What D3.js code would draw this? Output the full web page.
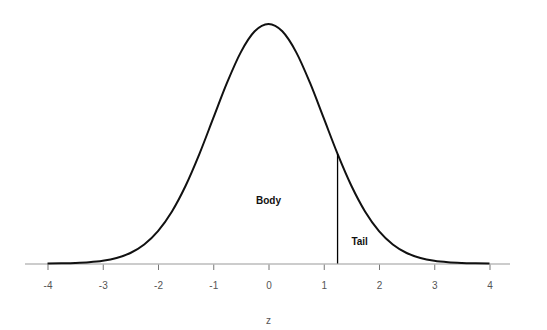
<!DOCTYPE html>
<html lang="en">
  <head>
    <meta charset="UTF-8" />
    <title>Body and tail</title>
    <script src="https://cdn.jsdelivr.net/npm/d3@7"></script>
    <style>
      body { margin: 0; background: #fff; }
      svg { display: block; font-family: "Liberation Sans", Arial, sans-serif; }
    </style>
  </head>
  <body>
    <svg id="chart" width="547" height="330"></svg>
    <script>
      // curve heights, every quarter unit of z
      const zValues = [-4, -3.75, -3.5, -3.25, -3, -2.75, -2.5, -2.25, -2, -1.75, -1.5, -1.25, -1, -0.75, -0.5, -0.25,
        0, 0.25, 0.5, 0.75, 1, 1.25, 1.5, 1.75, 2, 2.25, 2.5, 2.75, 3, 3.25, 3.5, 3.75, 4];
      const density = [0.0001, 0.0004, 0.0009, 0.0020, 0.0044, 0.0091, 0.0175, 0.0317, 0.0540, 0.0863, 0.1295, 0.1826,
        0.2420, 0.3011, 0.3521, 0.3867, 0.3989, 0.3867, 0.3521, 0.3011, 0.2420, 0.1826, 0.1295, 0.0863, 0.0540,
        0.0317, 0.0175, 0.0091, 0.0044, 0.0020, 0.0009, 0.0004, 0.0001];
      const tickLabels = [-4, -3, -2, -1, 0, 1, 2, 3, 4];
      const cutZ = 1.25;
      const cutHeight = 0.1826;
      const labels = [
        { text: "Body", z: 0, d: 0.104 },
        { text: "Tail", z: 1.65, d: 0.036 }
      ];

      const svg = d3.select("#chart");
      const x = d3.scaleLinear().domain([-4, 4]).range([47.5, 489.5]);
      const y = d3.scaleLinear().domain([0, 0.3989]).range([263.5, 24]);

      // axis (plain hyphen minus, like the original)
      const axis = svg.append("g")
        .attr("transform", "translate(0,264)")
        .call(d3.axisBottom(x).tickValues(tickLabels).tickSize(6).tickPadding(12).tickFormat(d => String(d)));
      axis.select(".domain").remove();
      axis.selectAll(".tick line").attr("stroke", "#777");
      axis.selectAll(".tick text").attr("fill", "#555").style("font-size", "10px");
      svg.append("line")
        .attr("x1", 25).attr("x2", 510)
        .attr("y1", 264).attr("y2", 264)
        .attr("stroke", "#bbb").attr("stroke-width", 1.5);

      const pts = zValues.map((z, i) => [z, density[i]]);
      const line = d3.line()
        .x(d => x(d[0]))
        .y(d => y(d[1]))
        .curve(d3.curveMonotoneX);

      svg.append("path")
        .attr("d", line(pts))
        .attr("fill", "none")
        .attr("stroke", "#111")
        .attr("stroke-width", 2);

      svg.append("line")
        .attr("x1", x(cutZ)).attr("x2", x(cutZ))
        .attr("y1", y(0)).attr("y2", y(cutHeight))
        .attr("stroke", "#000").attr("stroke-width", 1.3);

      svg.selectAll("text.lab")
        .data(labels)
        .join("text")
        .attr("class", "lab")
        .attr("x", d => x(d.z))
        .attr("y", d => y(d.d))
        .attr("text-anchor", "middle")
        .attr("dominant-baseline", "middle")
        .style("font-size", "10px")
        .style("font-weight", "bold")
        .attr("fill", "#111")
        .text(d => d.text);

      svg.append("text")
        .attr("x", x(0))
        .attr("y", 324)
        .attr("text-anchor", "middle")
        .style("font-size", "10px")
        .attr("fill", "#555")
        .text("z");
    </script>
  </body>
</html>
